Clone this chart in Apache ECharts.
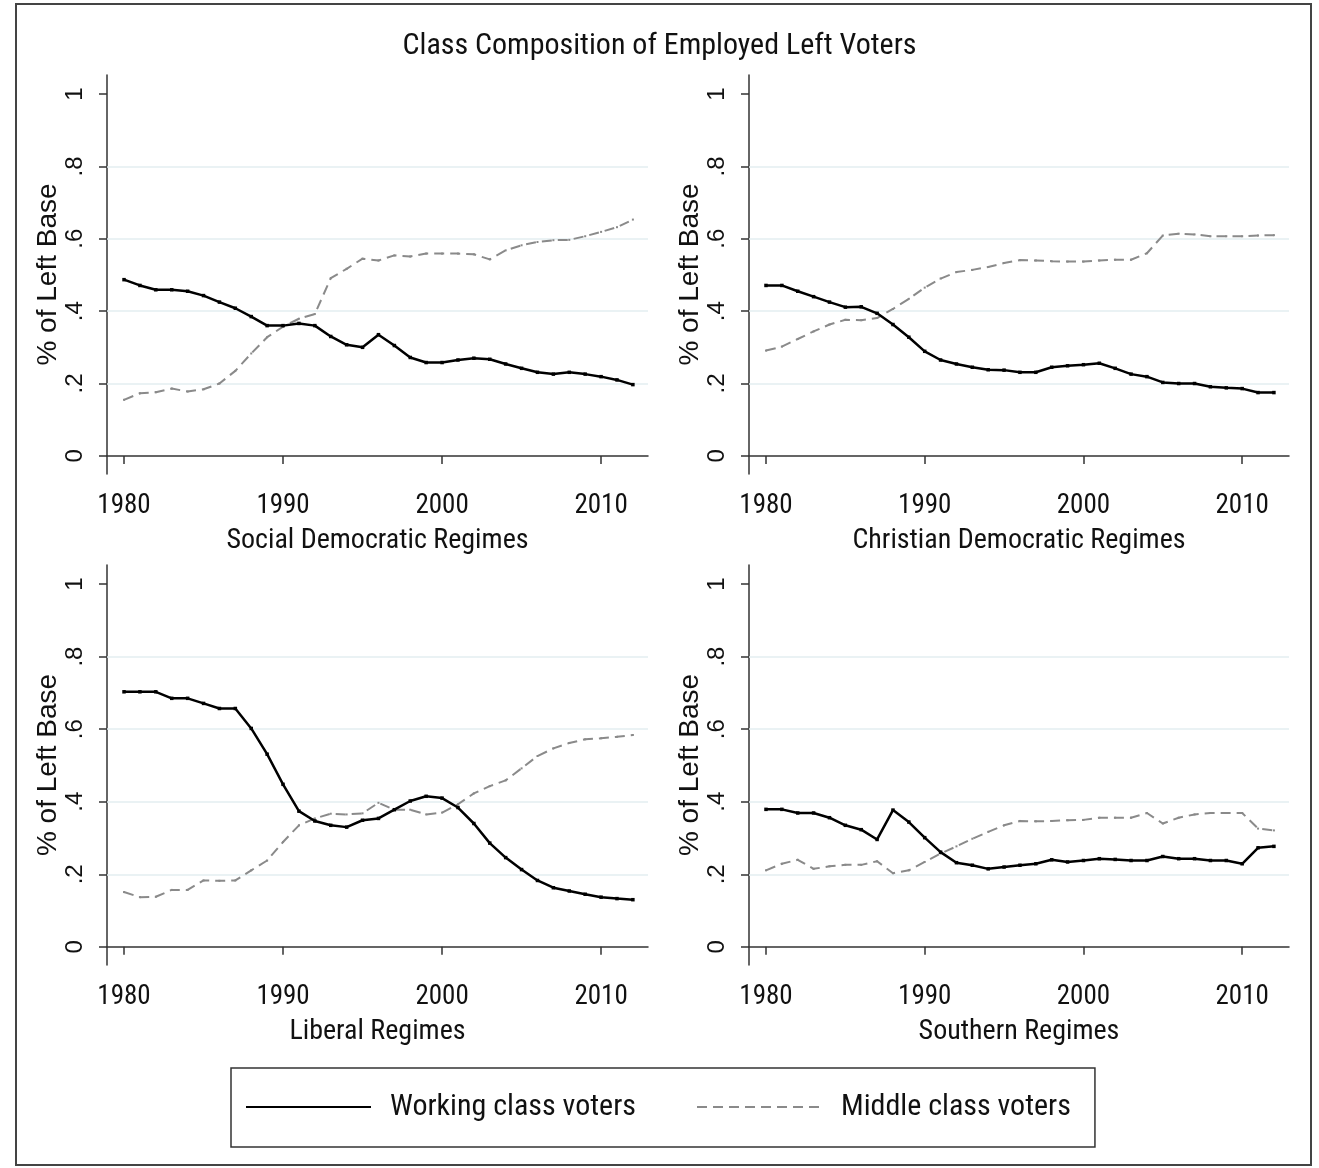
<!DOCTYPE html>
<html>
<head>
<meta charset="utf-8">
<title>Class Composition of Employed Left Voters</title>
<script src="https://cdn.jsdelivr.net/npm/echarts@6/dist/echarts.min.js"></script>
<style>
  html, body { margin: 0; padding: 0; background: #fff; }
  #chart { width: 1319px; height: 1168px; }
</style>
</head>
<body>
<div id="chart"></div>
<script>
// years on the x axis
const years = [1980, 1981, 1982, 1983, 1984, 1985, 1986, 1987, 1988, 1989,
  1990, 1991, 1992, 1993, 1994, 1995, 1996, 1997, 1998, 1999,
  2000, 2001, 2002, 2003, 2004, 2005, 2006, 2007, 2008, 2009,
  2010, 2011, 2012];

const xTicks = [1980, 1990, 2000, 2010];
const yTicks = [0, 0.2, 0.4, 0.6, 0.8, 1];
const gridValues = [0.2, 0.4, 0.6, 0.8];

const panelNames = ['Social Democratic Regimes', 'Christian Democratic Regimes',
  'Liberal Regimes', 'Southern Regimes'];
const seriesNames = ['Working class voters', 'Middle class voters'];

// share of left base
const socWorking = [.487, .471, .459, .459, .455, .443, .425, .408, .385, .36,
  .36, .366, .36, .33, .307, .30, .335, .305, .272, .258,
  .258, .265, .27, .267, .254, .242, .231, .226, .231, .226,
  .219, .21, .197];
const socMiddle = [.155, .173, .176, .186, .178, .184, .20, .235, .283, .328,
  .357, .379, .392, .491, .517, .545, .54, .554, .551, .559,
  .559, .559, .557, .543, .568, .582, .591, .596, .597, .607,
  .619, .632, .653];

const chrWorking = [.471, .471, .455, .44, .425, .411, .412, .394, .363, .328,
  .289, .265, .254, .245, .238, .237, .231, .231, .245, .249,
  .252, .256, .242, .226, .219, .203, .2, .2, .191, .188,
  .186, .175, .175];
const chrMiddle = [.291, .302, .323, .344, .363, .376, .375, .381, .406, .434,
  .465, .49, .508, .514, .522, .533, .541, .54, .538, .537,
  .537, .54, .542, .542, .56, .609, .614, .612, .607, .607,
  .607, .609, .61];

const libWorking = [.703, .703, .703, .685, .685, .671, .657, .657, .602, .531,
  .448, .374, .347, .335, .33, .349, .354, .378, .402, .415,
  .41, .384, .34, .286, .246, .213, .183, .163, .154, .145,
  .137, .133, .13];
const libMiddle = [.151, .137, .138, .157, .157, .183, .182, .183, .211, .238,
  .289, .335, .354, .367, .365, .368, .397, .378, .378, .365,
  .37, .393, .423, .443, .459, .492, .526, .547, .562, .572,
  .575, .579, .584];

const souWorking = [.379, .379, .369, .369, .356, .335, .323, .296, .377, .344,
  .301, .261, .232, .225, .215, .22, .225, .229, .24, .234,
  .238, .243, .241, .238, .238, .249, .243, .243, .238, .238,
  .229, .273, .277];
const souMiddle = [.211, .229, .24, .215, .222, .226, .226, .236, .203, .211,
  .234, .257, .277, .298, .317, .335, .347, .346, .347, .349,
  .35, .356, .356, .356, .369, .34, .356, .365, .369, .369,
  .369, .326, .321];

const working = [socWorking, chrWorking, libWorking, souWorking];
const middle = [socMiddle, chrMiddle, libMiddle, souMiddle];

const narrow = '"Roboto Condensed", "Liberation Sans Narrow", "Liberation Sans", sans-serif';
const regular = '"Liberation Sans", Arial, sans-serif';

const chart = echarts.init(document.getElementById('chart'));

// panel boxes [left, top, width, height]
const boxes = [
  [107, 75, 541, 399],
  [749, 75, 540, 399],
  [107, 565, 541, 400],
  [749, 565, 540, 400],
];

const grids = [];
const xAxes = [];
const yAxes = [];
const series = [];

const axisLine = { show: true, lineStyle: { color: '#333', width: 1.5 } };

const fmtY = (v) => {
  if (v === 0) return '0';
  if (v === 1) return '1';
  return String(Math.round(v * 10) / 10).replace('0.', '.');
};

boxes.forEach((b, i) => {
  grids.push({ left: b[0], top: b[1], width: b[2], height: b[3] });
  xAxes.push({
    gridIndex: i,
    type: 'value',
    min: 1978.93,
    max: 2012.95,
    name: panelNames[i],
    nameLocation: 'middle',
    nameGap: 53,
    nameTextStyle: { fontFamily: narrow, fontSize: 28, color: '#111' },
    axisLine: axisLine,
    axisTick: { show: true, length: 8, customValues: xTicks, lineStyle: { color: '#333', width: 1.5 } },
    axisLabel: { customValues: xTicks, margin: 19, formatter: (v) => String(v), fontFamily: narrow, fontSize: 27, color: '#111' },
    splitLine: { show: false },
  });
  yAxes.push({
    gridIndex: i,
    type: 'value',
    min: -0.05,
    max: 1.0525,
    name: '% of Left Base',
    nameLocation: 'middle',
    nameRotate: 90,
    nameGap: 42,
    nameTextStyle: { fontFamily: regular, fontSize: 28, color: '#111' },
    axisLine: axisLine,
    axisTick: { show: true, length: 8, customValues: yTicks, lineStyle: { color: '#333', width: 1.5 } },
    axisLabel: { customValues: yTicks, rotate: 90, margin: 20, formatter: fmtY, fontFamily: regular, fontSize: 24, color: '#111' },
    splitLine: { show: false },
  });
  series.push({
    name: seriesNames[0],
    type: 'line',
    xAxisIndex: i,
    yAxisIndex: i,
    data: years.map((y, k) => [y, working[i][k]]),
    symbol: 'rect',
    symbolSize: 3.5,
    showAllSymbol: true,
    lineStyle: { color: '#000', width: 2.5 },
    itemStyle: { color: '#000' },
    z: 3,
    markLine: {
      silent: true,
      symbol: 'none',
      label: { show: false },
      lineStyle: { color: '#e3eef0', width: 1.5, type: 'solid' },
      data: gridValues.map((v) => ({ yAxis: v })),
      z: 1,
    },
  });
  series.push({
    name: seriesNames[1],
    type: 'line',
    xAxisIndex: i,
    yAxisIndex: i,
    data: years.map((y, k) => [y, middle[i][k]]),
    symbol: 'rect',
    symbolSize: 2,
    showAllSymbol: true,
    lineStyle: { color: '#8a8a8a', width: 2, type: [10, 6] },
    itemStyle: { color: '#8a8a8a' },
    z: 2,
  });
});

const option = {
  animation: false,
  backgroundColor: '#fff',
  title: {
    text: 'Class Composition of Employed Left Voters',
    left: 'center',
    top: 31,
    padding: 0,
    textStyle: { fontFamily: narrow, fontSize: 30, fontWeight: 'normal', color: '#111' },
  },
  legend: {
    data: seriesNames,
    left: 231,
    top: 1068,
    orient: 'horizontal',
    itemWidth: 125,
    itemHeight: 14,
    itemGap: 60,
    padding: [24, 24, 25, 14],
    borderColor: '#333',
    borderWidth: 1.5,
    selectedMode: false,
    itemStyle: { opacity: 0 },
    textStyle: { fontFamily: narrow, fontSize: 30, color: '#111', padding: [0, 0, 0, 14] },
  },
  graphic: [{
    type: 'rect',
    shape: { x: 16, y: 4, width: 1295, height: 1161 },
    style: { fill: 'none', stroke: '#444', lineWidth: 2 },
    silent: true,
  }],
  grid: grids,
  xAxis: xAxes,
  yAxis: yAxes,
  series: series,
};

chart.setOption(option);
</script>
</body>
</html>
